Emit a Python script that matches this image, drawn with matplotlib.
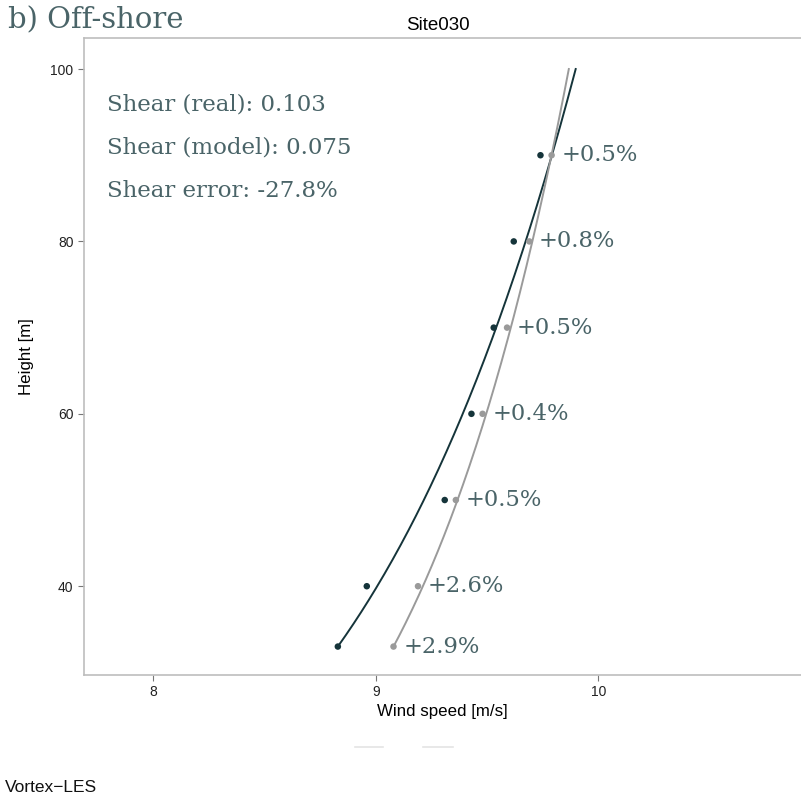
import numpy as np
import matplotlib
matplotlib.use("Agg")
import matplotlib.pyplot as plt

heights = [33, 40, 50, 60, 70, 80, 90]
speed_real = [8.83, 8.96, 9.31, 9.43, 9.53, 9.62, 9.74]
speed_model = [9.08, 9.19, 9.36, 9.48, 9.59, 9.69, 9.79]
pct_labels = ["+2.9%", "+2.6%", "+0.5%", "+0.4%", "+0.5%", "+0.8%", "+0.5%"]
shear_real = 0.103
shear_model = 0.075
info_lines = ["Shear (real): 0.103", "Shear (model): 0.075", "Shear error: -27.8%"]

dark = "#15343a"
grey = "#9a9a9a"
txtc = "#4a6468"
spine = "#bdbdbd"
slab = "DejaVu Serif"

fig = plt.figure(figsize=(8.01, 8.02), dpi=100)
ax = fig.add_axes([84/801, 1-675/802, 717/801, 637/802])

# fitted power-law profiles
hh = np.linspace(heights[0], 100, 200)
ax.plot(speed_real[0]*(hh/heights[0])**shear_real, hh, color=dark, lw=1.4, zorder=2)
ax.plot(speed_model[0]*(hh/heights[0])**shear_model, hh, color=grey, lw=1.4, zorder=2)
ax.scatter(speed_real, heights, s=22, color=dark, zorder=3, edgecolors="none")
ax.scatter(speed_model, heights, s=22, color=grey, zorder=3, edgecolors="none")

for x, y, t in zip(speed_model, heights, pct_labels):
    ax.annotate(t, (x, y), xytext=(7, 0), textcoords="offset points",
                va="center", ha="left", fontsize=16.3, color=txtc, family=slab)

for i, t in enumerate(info_lines):
    ax.text(0.032, 0.896 - i*0.068, t, transform=ax.transAxes, fontsize=16.5,
            color=txtc, family=slab, va="center", ha="left")

ax.set_xlim(7.69, 10.91)
ax.set_ylim(29.7, 103.6)
ax.set_xticks([8, 9, 10])
ax.set_yticks([40, 60, 80, 100])
for s in ["left", "top", "bottom"]:
    ax.spines[s].set_color(spine)
    ax.spines[s].set_linewidth(1.2)
ax.spines["right"].set_visible(False)
ax.tick_params(colors="#777777", labelcolor="#222222", length=4, width=0.8,
               labelsize=10)
for lab in ax.get_xticklabels() + ax.get_yticklabels():
    lab.set_family("Liberation Sans")
ax.set_xlabel("Wind speed [m/s]", family="Liberation Sans", fontsize=12.2, labelpad=3)
ax.set_ylabel("Height [m]", family="Liberation Sans", fontsize=12.2, labelpad=12)
ax.set_title("Site030", family="Liberation Sans", fontsize=13.5, pad=6, x=0.494)

fig.text(8/801, 1-20/802, "b) Off-shore", family=slab, fontsize=21,
         color=txtc, va="center", ha="left")
fig.text(5/801, 1-787/802, "Vortex\u2212LES", family="Liberation Sans",
         fontsize=12.5, color="#111111", va="center", ha="left")
for x0, x1 in [(355, 383), (423, 453)]:
    fig.add_artist(plt.Line2D([x0/801, x1/801], [1-747/802]*2, color="#e4e4e4",
                              lw=1.2, transform=fig.transFigure))

fig.savefig("out.png", dpi=100)
